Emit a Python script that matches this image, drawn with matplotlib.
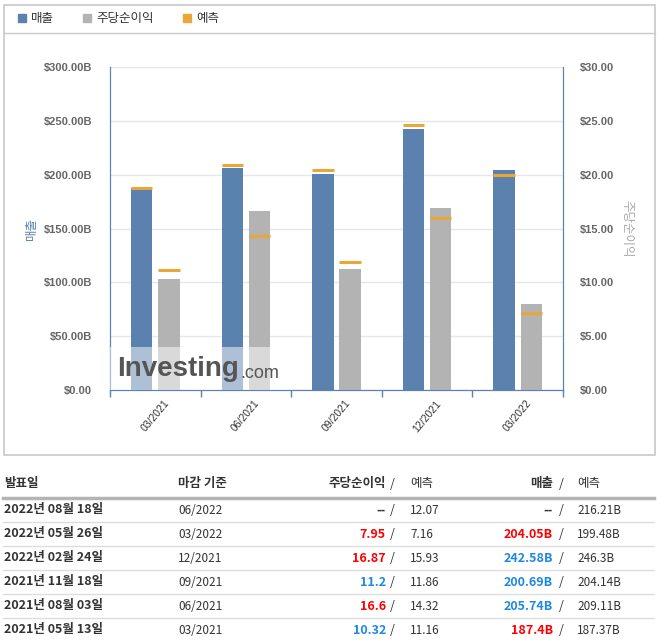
import numpy as np
import matplotlib.pyplot as plt
from matplotlib.patches import Rectangle

plt.rcParams['font.family'] = ['Noto Sans CJK KR', 'DejaVu Sans']

# chart data
quarters = ['03/2021', '06/2021', '09/2021', '12/2021', '03/2022']
revenue = [187.4, 205.74, 200.69, 242.58, 204.05]
revenue_fc = [187.37, 209.11, 204.14, 246.3, 199.48]
eps = [10.32, 16.6, 11.2, 16.87, 7.95]
eps_fc = [11.16, 14.32, 11.86, 15.93, 7.16]
rev_ticks = [0, 50, 100, 150, 200, 250, 300]
rev_ticklabels = ['$0.00', '$50.00B', '$100.00B', '$150.00B', '$200.00B', '$250.00B', '$300.00B']
eps_ticks = [0, 5, 10, 15, 20, 25, 30]
eps_ticklabels = ['$0.00', '$5.00', '$10.00', '$15.00', '$20.00', '$25.00', '$30.00']

# table data
dates = ['2022년 08월 18일', '2022년 05월 26일', '2022년 02월 24일',
         '2021년 11월 18일', '2021년 08월 03일', '2021년 05월 13일']
periods = ['06/2022', '03/2022', '12/2021', '09/2021', '06/2021', '03/2021']
eps_txt = ['--', '7.95', '16.87', '11.2', '16.6', '10.32']
eps_fc_txt = ['12.07', '7.16', '15.93', '11.86', '14.32', '11.16']
rev_txt = ['--', '204.05B', '242.58B', '200.69B', '205.74B', '187.4B']
rev_fc_txt = ['216.21B', '199.48B', '246.3B', '204.14B', '209.11B', '187.37B']
eps_col = ['#333333', '#ff0000', '#ff0000', '#1e88e5', '#ff0000', '#1e88e5']
rev_col = ['#333333', '#ff0000', '#1e88e5', '#1e88e5', '#1e88e5', '#ff0000']

BLUE = '#5b82ae'
GRAY = '#b3b3b3'
ORANGE = '#e8a736'
W, H = 657, 643

fig = plt.figure(figsize=(W / 100, H / 100), dpi=100)

# background overlay in pixel coords
bg = fig.add_axes([0, 0, 1, 1], zorder=0)
bg.set_xlim(0, W)
bg.set_ylim(H, 0)
bg.axis('off')
bg.add_patch(Rectangle((3.5, 4.5), 651, 450, fill=False, ec='#c8c8c8', lw=1.2))
bg.plot([3.5, 654.5], [33, 33], color='#c8c8c8', lw=1)

# legend
for x, col, lab in [(18, BLUE, '매출'), (83, GRAY, '주당순이익'), (183, ORANGE, '예측')]:
    bg.add_patch(Rectangle((x, 14), 8, 8, color=col))
    bg.text(x + 13, 18.5, lab, fontsize=9, va='center', ha='left', color='#333333')

# chart
ax = fig.add_axes([110 / W, 1 - 390 / H, 453 / W, 323 / H], zorder=1)
ax.patch.set_alpha(0)
x = np.arange(len(quarters))
bw = 0.235
off = 0.15
ax.bar(x - off, revenue, width=bw, color=BLUE, zorder=2)
ax.hlines(revenue_fc, x - off - bw / 2, x - off + bw / 2, color=ORANGE, lw=2.2, zorder=3)
ax.set_xlim(-0.5, len(quarters) - 0.5)
ax.set_ylim(0, 300)
ax.set_yticks(rev_ticks)
ax.set_yticklabels(rev_ticklabels)
ax.grid(axis='y', color='#e6e6ee', lw=1, zorder=0)
ax.set_axisbelow(True)
ax.set_xticks(x)
ax.set_xticklabels(quarters, rotation=50, fontsize=7.5, color='#333333')
ax.set_xticks(np.arange(-0.5, len(quarters)), minor=True)
ax.tick_params(axis='x', which='major', length=0, pad=6)
ax.tick_params(axis='x', which='minor', length=5, color=BLUE, width=1)
ax.tick_params(axis='y', length=0, pad=13, labelsize=8, labelcolor='#666666')
for lab in ax.get_yticklabels():
    lab.set_fontweight('bold')
    lab.set_family(['Liberation Sans', 'DejaVu Sans'])
for lab in ax.get_xticklabels():
    lab.set_family(['Liberation Sans', 'DejaVu Sans'])
for s in ['left', 'right', 'bottom']:
    ax.spines[s].set_color(BLUE)
ax.spines['top'].set_visible(False)
ax.set_ylabel('매출', color=BLUE, fontsize=9, labelpad=4)

ax2 = ax.twinx()
ax2.bar(x + off, eps, width=bw, color=GRAY, zorder=2)
ax2.hlines(eps_fc, x + off - bw / 2, x + off + bw / 2, color=ORANGE, lw=2.2, zorder=3)
ax2.set_ylim(0, 30)
ax2.set_yticks(eps_ticks)
ax2.set_yticklabels(eps_ticklabels)
ax2.tick_params(axis='y', length=0, pad=12, labelsize=8, labelcolor='#666666')
for lab in ax2.get_yticklabels():
    lab.set_fontweight('bold')
    lab.set_family(['Liberation Sans', 'DejaVu Sans'])
for s in ['left', 'right', 'bottom']:
    ax2.spines[s].set_color(BLUE)
ax2.spines['top'].set_visible(False)
ax2.set_ylabel('주당순이익', color='#aaaaaa', fontsize=9, rotation=-90, labelpad=14)

# watermark
fg = fig.add_axes([0, 0, 1, 1], zorder=3)
fg.set_xlim(0, W)
fg.set_ylim(H, 0)
fg.axis('off')
fg.patch.set_alpha(0)
fg.add_patch(Rectangle((110, 347), 178, 43, color='white', alpha=0.5, lw=0))
fg.text(117, 369, 'Investing', fontsize=20, fontweight='bold', color='#555555',
        va='center', ha='left', family=['Liberation Sans', 'DejaVu Sans'])
fg.text(240, 373, '.com', fontsize=13, color='#555555', va='center', ha='left',
        family=['Liberation Sans', 'DejaVu Sans'])

# table
hy = 484
bg.text(4, hy, '발표일', fontsize=9, fontweight='bold', va='center', color='#333333')
bg.text(178, hy, '마감 기준', fontsize=9, fontweight='bold', va='center', color='#333333')
bg.text(386, hy, '주당순이익', fontsize=9, fontweight='bold', va='center', ha='right', color='#333333')
bg.text(392, hy, '/', fontsize=9, va='center', ha='center', color='#333333')
bg.text(410, hy, '예측', fontsize=9, va='center', color='#333333')
bg.text(553, hy, '매출', fontsize=9, fontweight='bold', va='center', ha='right', color='#333333')
bg.text(561, hy, '/', fontsize=9, va='center', ha='center', color='#333333')
bg.text(577, hy, '예측', fontsize=9, va='center', color='#333333')
bg.plot([3, 654], [498, 498], color='#b4b4b4', lw=2.5)

for i in range(len(dates)):
    ry = 510 + 24 * i
    bg.text(4, ry, dates[i], fontsize=9, fontweight='bold', va='center', color='#333333')
    bg.text(178, ry, periods[i], fontsize=8.5, va='center', color='#333333')
    bg.text(386, ry, eps_txt[i], fontsize=9, fontweight='bold', va='center', ha='right', color=eps_col[i])
    bg.text(392, ry, '/', fontsize=9, va='center', ha='center', color='#333333')
    bg.text(410, ry, eps_fc_txt[i], fontsize=8.5, va='center', color='#333333')
    bg.text(553, ry, rev_txt[i], fontsize=9, fontweight='bold', va='center', ha='right', color=rev_col[i])
    bg.text(561, ry, '/', fontsize=9, va='center', ha='center', color='#333333')
    bg.text(577, ry, rev_fc_txt[i], fontsize=8.5, va='center', color='#333333')
    if i < len(dates) - 1:
        bg.plot([3, 654], [ry + 12, ry + 12], color='#dddddd', lw=1)

fig.savefig('out.png', dpi=100)
